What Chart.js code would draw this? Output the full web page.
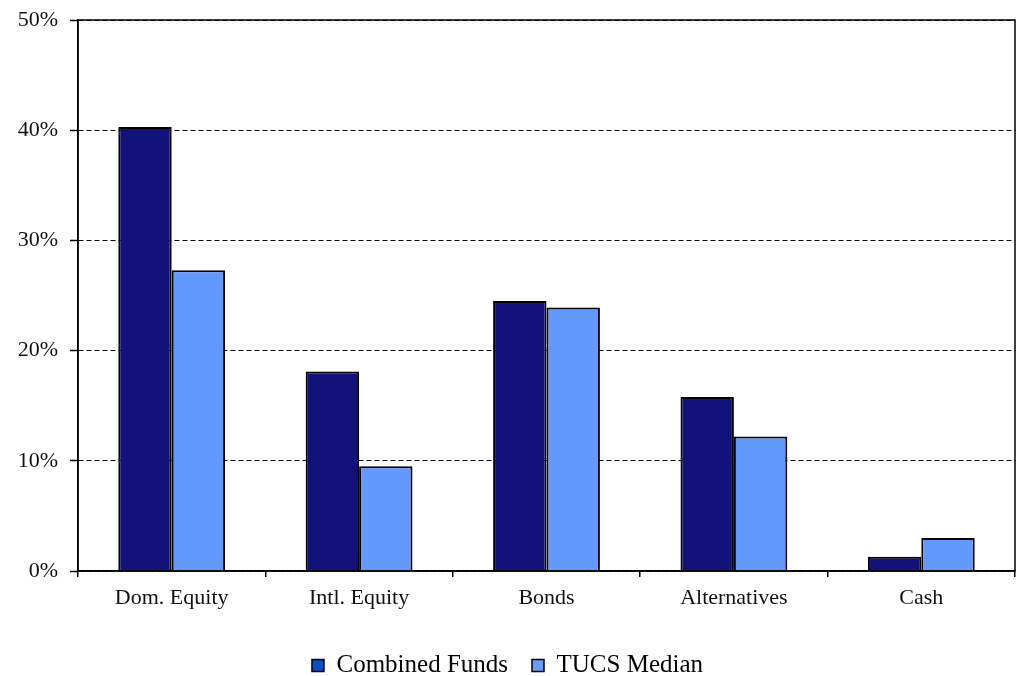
<!DOCTYPE html>
<html>
<head>
<meta charset="utf-8">
<script src="https://cdn.jsdelivr.net/npm/chart.js"></script>
<style>
  html, body { margin: 0; padding: 0; background: #fff; }
  #wrap { width: 1021px; height: 676px; }
</style>
</head>
<body>
<div id="wrap"><canvas id="allocChart"></canvas></div>
<script>
const categories = ['Dom. Equity', 'Intl. Equity', 'Bonds', 'Alternatives', 'Cash'];
const combinedFunds = [40.3, 18.1, 24.5, 15.8, 1.3];
const tucsMedian = [27.3, 9.5, 23.9, 12.2, 3.0];
const yTicks = [0, 10, 20, 30, 40, 50];

const serif = "'Liberation Serif', 'Times New Roman', serif";

// frame around the plot area (top and right edges)
const frame = {
  id: 'frame',
  afterDraw(chart) {
    const { ctx, chartArea: a } = chart;
    ctx.save();
    ctx.strokeStyle = '#000';
    ctx.lineWidth = 1.5;
    ctx.strokeRect(a.left, a.top, a.right - a.left, a.bottom - a.top);
    ctx.restore();
  }
};

const legendSwatch = ['#0a4ec4', '#6a9cff'];

new Chart(document.getElementById('allocChart'), {
  type: 'bar',
  data: {
    labels: categories,
    datasets: [
      {
        label: 'Combined Funds',
        data: combinedFunds,
        backgroundColor: '#12127a',
        borderColor: '#000',
        borderWidth: 2
      },
      {
        label: 'TUCS Median',
        data: tucsMedian,
        backgroundColor: '#6199ff',
        borderColor: '#000',
        borderWidth: 2
      }
    ]
  },
  options: {
    responsive: true,
    maintainAspectRatio: false,
    animation: false,
    layout: { padding: { top: 20, right: 6, left: 0, bottom: -12 } },
    datasets: { bar: { categoryPercentage: 0.57, barPercentage: 1.0 } },
    scales: {
      x: {
        afterFit: axis => { axis.height = 58; },
        grid: { display: true, drawOnChartArea: false, offset: true, tickLength: 6, color: '#000', lineWidth: 1.5 },
        border: { color: '#000', width: 1.5 },
        ticks: { color: '#111', font: { family: serif, size: 22 }, padding: 8 }
      },
      y: {
        min: 0,
        max: 50,
        afterFit: axis => { axis.width = 78; axis.paddingTop = 0; axis.paddingBottom = 0; },
        afterBuildTicks: axis => { axis.ticks = yTicks.map(v => ({ value: v })); },
        grid: { color: '#000', lineWidth: 1, tickLength: 8, tickBorderDash: [], tickWidth: 1.5 },
        border: { color: '#000', width: 1.5, dash: [5, 3] },
        ticks: {
          color: '#111',
          font: { family: serif, size: 22 },
          padding: 12,
          callback: v => v + '%'
        }
      }
    },
    plugins: {
      legend: {
        position: 'bottom',
        labels: {
          font: { family: serif, size: 25 },
          color: '#111',
          boxWidth: 12,
          boxHeight: 12,
          padding: 24,
          generateLabels: chart => chart.data.datasets.map((ds, i) => ({
            text: ds.label,
            fillStyle: legendSwatch[i],
            strokeStyle: '#000',
            lineWidth: 1.5,
            datasetIndex: i
          }))
        }
      },
      tooltip: { enabled: false }
    }
  },
  plugins: [frame]
});
</script>
</body>
</html>
